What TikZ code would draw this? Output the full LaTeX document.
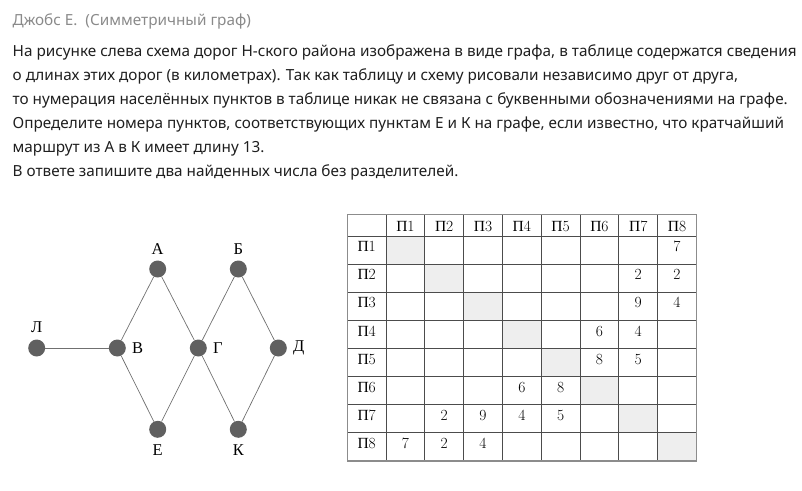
\documentclass[tikz,border=0pt]{standalone}
\usepackage{fontspec}
\usepackage{tikz}
\usetikzlibrary{positioning}
\newfontfamily\notosans{Noto Sans}
\newfontfamily\cyrserif{Liberation Serif}
\definecolor{vgray}{HTML}{606060}
\definecolor{rgray}{HTML}{707070}
\definecolor{hgray}{HTML}{8A8A8A}
\definecolor{cellgray}{HTML}{EEEEEE}

\begin{document}
\begin{tikzpicture}[x=1pt,y=-1pt,
  vert/.style={circle,fill=vgray,minimum size=17pt,inner sep=0pt},
  road/.style={draw=rgray,line width=0.7pt},
  tag/.style={font=\cyrserif\fontsize{16.5}{16.5}\selectfont,inner sep=0pt},
  para/.style={font=\notosans\fontsize{15.3}{15.3}\selectfont,text=black!88,anchor=base west,inner sep=0pt},
  cell/.style={font=\fontsize{15.5}{15.5}\selectfont,anchor=base,inner sep=0pt}]
	\useasboundingbox (0,0) rectangle (802,490);

	% text
	\node[para,text=hgray] (head) at (12.5,25) {Джобс Е.\ \ (Симметричный граф)};
	\foreach \t [count=\i] in {
	  {На рисунке слева схема дорог Н-ского района изображена в виде графа, в таблице содержатся сведения},
	  {о длинах этих дорог (в километрах). Так как таблицу и схему рисовали независимо друг от друга,},
	  {то нумерация населённых пунктов в таблице никак не связана с буквенными обозначениями на графе.},
	  {Определите номера пунктов, соответствующих пунктам Е и К на графе, если известно, что кратчайший},
	  {маршрут из А в К имеет длину 13.},
	  {В ответе запишите два найденных числа без разделителей.}}
	  \node[para] (line\i) at (12.5,56.5+24*\i-24) {\t};

	% graph
	\node[vert] (L) at (36.7,348) {};
	\node[vert] (V) at (117.3,348) {};
	\node[vert] (G) at (198.3,348) {};
	\node[vert] (D) at (278.3,348) {};
	\node[vert] (A) at (157.7,269) {};
	\node[vert] (B) at (238.3,269) {};
	\node[vert] (E) at (157.7,429.3) {};
	\node[vert] (K) at (238.3,429.3) {};

	\draw[road] (L) -- (V);
	\draw[road] (V) -- (A) -- (G) -- (E) -- (V);
	\draw[road] (G) -- (B) -- (D) -- (K) -- (G);

	\node[tag,above=6pt of L] (lL) {Л};
	\node[tag,above=6pt of A] (lA) {А};
	\node[tag,above=6pt of B] (lB) {Б};
	\node[tag,right=6pt of V] (lV) {В};
	\node[tag,right=6pt of G] (lG) {Г};
	\node[tag,right=6pt of D] (lD) {Д};
	\node[tag,below=6.5pt of E] (lE) {Е};
	\node[tag,below=6.5pt of K] (lK) {К};

	% table
	\begin{scope}
	  \foreach \i in {1,...,8}
	    \fill[cellgray] (386+38.8*\i-38.8,236+28.1*\i-28.1) rectangle +(38.8,28.1);
	  \foreach \i in {1,...,8}
	    \draw[black!70,line width=0.8pt] (386+38.8*\i-38.8,214.5) -- (386+38.8*\i-38.8,460.8);
	  \foreach \i in {1,...,8}
	    \draw[black!70,line width=0.8pt] (347.5,236+28.1*\i-28.1) -- (696.4,236+28.1*\i-28.1);
	  \draw[black!45,line width=1.4pt] (347.5,214.5) rectangle (696.4,460.8);

	  \foreach \i in {1,...,8} {
	    \node[cell] (h\i) at (386+38.8*\i-19.4,231) {{\cyrserif П}\i};
	    \node[cell] (r\i) at (366.7,236+28.1*\i-12.4) {{\cyrserif П}\i};
	  }
	  \foreach \r/\c/\v in {1/8/7, 2/7/2, 2/8/2, 3/7/9, 3/8/4, 4/6/6, 4/7/4, 5/6/8, 5/7/5,
	      6/4/6, 6/5/8, 7/2/2, 7/3/9, 7/4/4, 7/5/5, 8/1/7, 8/2/2, 8/3/4}
	    \node[cell] (v\r\c) at (386+38.8*\c-19.4,236+28.1*\r-12.4) {\v};
	\end{scope}
\end{tikzpicture}
\end{document}
